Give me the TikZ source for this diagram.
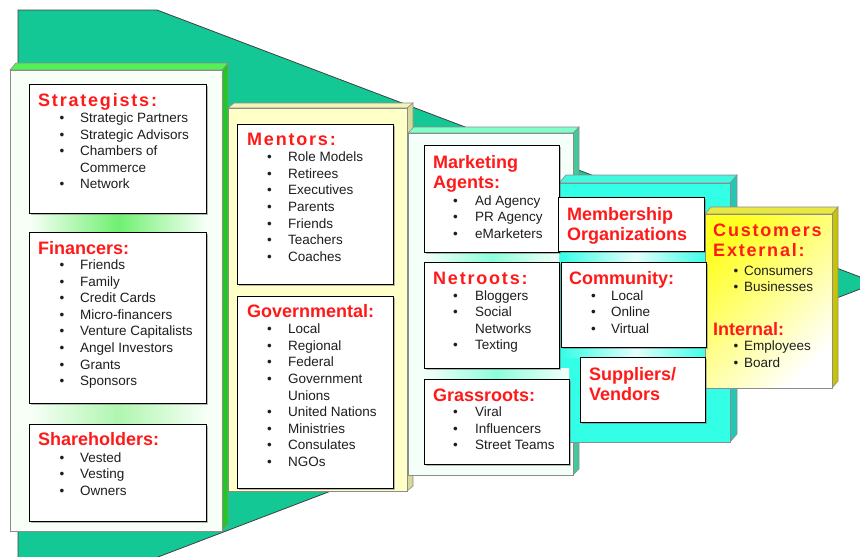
\documentclass[tikz,border=0pt]{standalone}
\usepackage{fontspec}
\setmainfont{Liberation Sans}
\newfontfamily\spacedfont{Liberation Sans}[LetterSpace=10]
\usetikzlibrary{shadows}
\definecolor{funnelc}{HTML}{14C896}
\definecolor{ttlred}{HTML}{FF1A1A}
\definecolor{txtc}{HTML}{1E1E1E}
\definecolor{gfront}{HTML}{F7FFF7}
\definecolor{gtop}{HTML}{55F055}
\definecolor{gside}{HTML}{22C822}
\definecolor{gglow}{HTML}{70F070}
\definecolor{gglowb}{HTML}{B0F6B0}
\definecolor{yfront}{HTML}{FFFFC8}
\definecolor{ytop}{HTML}{F4F4B4}
\definecolor{yside}{HTML}{D8D898}
\definecolor{mfront}{HTML}{F5FFFA}
\definecolor{mtop}{HTML}{80FFC8}
\definecolor{mside}{HTML}{44C898}
\definecolor{mglow}{HTML}{8CFFDC}
\definecolor{cfront}{HTML}{33FFE6}
\definecolor{ctop}{HTML}{40F8E0}
\definecolor{cside}{HTML}{22C8B4}
\definecolor{cglow}{HTML}{E4FFFB}
\definecolor{kfront}{HTML}{FFFF20}
\definecolor{kmid}{HTML}{FFFF9A}
\definecolor{ktop}{HTML}{E8E840}
\definecolor{kside}{HTML}{C8C400}
\newlength\bw
\newcommand\bi{\makebox[\bw][l]{\textbullet}}
\newcommand\blist[2]{\setlength\bw{#1pt}\begin{tabular}[t]{@{}l@{}l@{}}#2\end{tabular}}
\newcommand\ttlines[1]{\begin{tabular}[t]{@{}l@{}}#1\end{tabular}}
% panel: x1 y1 x2 y2 dx dy front top side
\newcommand\panelbox[9]{%
  \path[panel,fill=#9] (#3,#2) -- (#3+#5,#2+#6) -- (#3+#5,#4+#6) -- (#3,#4) -- cycle;
  \path[panel,fill=#8] (#1,#2) -- (#1+#5,#2+#6) -- (#3+#5,#2+#6) -- (#3,#2) -- cycle;
  \path[panel,#7] (#1,#2) rectangle (#3,#4);}
\newcommand\ibox[5]{\node[inbox, anchor=north west, minimum width={#4-#2}, minimum height={#5-#3}] (#1) at (#2,#3) {};}
\newcommand\glow[6]{\shade[left color=#6, right color=#6, middle color=#5] (#1,#2) rectangle (#3,#4);}
\tikzset{
  panel/.style={draw=black!45, line width=0.6pt},
  inbox/.style={draw=black, line width=0.9pt, fill=white, inner sep=0,
    drop shadow={shadow xshift=1.2pt, shadow yshift=-1.2pt, opacity=0.45, fill=black!60}},
  ttl/.style={inner sep=0, anchor=base west, text=ttlred, font=\fontsize{18}{20}\selectfont\bfseries},
  lst/.style={inner sep=0, anchor=base west, text=txtc, font=\fontsize{13.5}{16.6}\selectfont},
}
\begin{document}
\begin{tikzpicture}[x=1pt,y=-1pt]
\useasboundingbox (0,0) rectangle (860,557);
\begin{scope}
\clip (0,0) rectangle (860,557);
\path[fill=funnelc, draw=black!75, line width=0.8pt] (18,10) -- (157,10) -- (876,283) -- (158,557) -- (158,580) -- (18,580) -- cycle;
\end{scope}
% column 2 (yellow)
\panelbox{228}{108}{407}{491}{6}{-5}{fill=yfront}{ytop}{yside}
% column 1 (green)
\panelbox{10}{70}{222}{531}{6}{-7}{fill=gfront}{gtop}{gside}
\glow{30}{213}{206}{232}{gglow}{gfront}
\glow{30}{403}{206}{424}{gglowb}{gfront}
% column 3 (mint)
\panelbox{408}{133}{573}{475}{6}{-6}{fill=mfront}{mtop}{mside}
% column 4 (cyan)
\panelbox{559}{183}{730}{442}{7}{-8}{fill=cfront}{ctop}{cside}
\glow{559}{251}{710}{262}{cglow}{cfront}
\glow{561}{347}{710}{357}{cglow}{cfront}
\glow{424}{252}{559}{262}{mglow}{mfront}
\glow{424}{368}{569}{379}{mglow}{mfront}
% column 5 (yellow gradient)
\panelbox{705}{214}{832}{388}{6}{-7}{top color=kfront, middle color=kmid, bottom color=white, shading angle=45}{ktop}{kside}
% inner boxes
\ibox{strat}{29}{84}{206}{213}
\ibox{fin}{29}{232}{206}{403}
\ibox{share}{29}{424}{206}{521}
\ibox{ment}{237}{124}{393}{284}
\ibox{gov}{237}{296}{393}{488}
\ibox{mkt}{424}{145}{559}{252}
\ibox{net}{424}{262}{559}{368}
\ibox{grass}{424}{379}{569}{464}
\ibox{memb}{558}{197}{704}{251}
\ibox{comm}{561}{262}{706}{347}
\ibox{supp}{580}{357}{705}{422}
% column 1 texts
\node[ttl] (tStrat) at (38,106.5) {\spacedfont\bfseries Strategists:};
\node[lst] (lStrat) at (59.5,122.5) {\blist{20.5}{\bi&Strategic Partners\\ \bi&Strategic Advisors\\ \bi&Chambers of\\ &Commerce\\ \bi&Network}};
\node[ttl] (tFin) at (38,254) {Financers:};
\node[lst] (lFin) at (59.5,269.5) {\blist{20.5}{\bi&Friends\\ \bi&Family\\ \bi&Credit Cards\\ \bi&Micro-financers\\ \bi&Venture Capitalists\\ \bi&Angel Investors\\ \bi&Grants\\ \bi&Sponsors}};
\node[ttl] (tShare) at (38,445) {Shareholders:};
\node[lst] (lShare) at (59.5,462) {\blist{20.5}{\bi&Vested\\ \bi&Vesting\\ \bi&Owners}};
% column 2 texts
\node[ttl] (tMent) at (247,145.7) {\spacedfont\bfseries Mentors:};
\node[lst] (lMent) at (267,161.7) {\blist{21}{\bi&Role Models\\ \bi&Retirees\\ \bi&Executives\\ \bi&Parents\\ \bi&Friends\\ \bi&Teachers\\ \bi&Coaches}};
\node[ttl] (tGov) at (247,317.7) {Governmental:};
\node[lst] (lGov) at (267,333.7) {\blist{21}{\bi&Local\\ \bi&Regional\\ \bi&Federal\\ \bi&Government\\ &Unions\\ \bi&United Nations\\ \bi&Ministries\\ \bi&Consulates\\ \bi&NGOs}};
% column 3 texts
\node[ttl] (tMkt) at (433,168.3) {\ttlines{Marketing\\ Agents:}};
\node[lst] (lMkt) at (453,205) {\blist{22}{\bi&Ad Agency\\ \bi&PR Agency\\ \bi&eMarketers}};
\node[ttl] (tNet) at (433,284) {\spacedfont\bfseries Netroots:};
\node[lst] (lNet) at (453,300) {\blist{22}{\bi&Bloggers\\ \bi&Social\\ &Networks\\ \bi&Texting}};
\node[ttl] (tGrass) at (433,401.7) {Grassroots:};
\node[lst] (lGrass) at (453,416.7) {\blist{22}{\bi&Viral\\ \bi&Influencers\\ \bi&Street Teams}};
% column 4 texts
\node[ttl] (tMemb) at (567,220) {\ttlines{Membership\\ Organizations}};
\node[ttl] (tComm) at (569,284) {Community:};
\node[lst] (lComm) at (591,300) {\blist{20}{\bi&Local\\ \bi&Online\\ \bi&Virtual}};
\node[ttl] (tSupp) at (589,380) {\ttlines{Suppliers/\\ Vendors}};
% column 5 texts
\node[ttl] (tCust) at (713,236.7) {\spacedfont\bfseries\ttlines{Customers\\ External:}};
\node[lst] (lExt) at (733.5,275) {\blist{10.5}{\bi&Consumers\\ \bi&Businesses}};
\node[ttl] (tInt) at (713,335) {Internal:};
\node[lst] (lInt) at (733.5,350.7) {\blist{10.5}{\bi&Employees\\ \bi&Board}};
\end{tikzpicture}
\end{document}
